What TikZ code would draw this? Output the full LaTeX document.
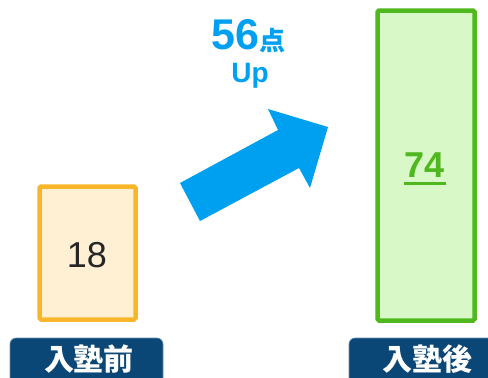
\documentclass[tikz,border=0pt]{standalone}
\usepackage{fontspec}
\setmainfont{Liberation Sans}
\newfontfamily\cjkfont{Noto Sans CJK JP}
\definecolor{upblue}{RGB}{0,160,240}
\definecolor{orgline}{RGB}{250,182,42}
\definecolor{orgfill}{RGB}{255,240,212}
\definecolor{grnline}{RGB}{78,184,30}
\definecolor{grnfill}{RGB}{216,248,200}
\definecolor{navy}{RGB}{10,70,118}
\tikzset{
  barbox/.style={line width=4.5pt, rounded corners=1.5pt},
  tagbox/.style={fill=navy, draw=navy!60!white, line width=0.6pt, rounded corners=6pt},
  tagtext/.style={text=white, font=\cjkfont\bfseries\fontsize{30}{30}\selectfont, inner sep=0pt},
}
\begin{document}
\begin{tikzpicture}[x=1pt,y=-1pt]
\clip (0,0) rectangle (488,378);
\fill[white] (0,0) rectangle (488,378);
% bars
\draw[barbox, draw=orgline, fill=orgfill] (39.5,186.5) rectangle (135.5,319.5);
\draw[barbox, draw=grnline, fill=grnfill] (377.5,10.5) rectangle (474.5,320.5);
\node[font=\fontsize{36}{36}\selectfont, text=black!85, inner sep=0pt, anchor=base] (v18) at (87,267) {18};
\node[font=\bfseries\fontsize{36}{36}\selectfont, text=grnline, inner sep=0pt, anchor=base] (v74) at (425,177) {74};
\draw[grnline, line width=3pt] (404,183.5) -- (446,183.5);
% arrow
\fill[upblue] (200,221) -- (180,183) -- (278,130) -- (268,109) -- (328,127) -- (310,188) -- (299,168) -- cycle;
\node[font=\bfseries\fontsize{43}{43}\selectfont, text=upblue, inner sep=0pt, anchor=base west] (n56) at (211,49) {56};
\node[font=\cjkfont\bfseries\fontsize{26}{26}\selectfont, text=upblue, inner sep=0pt, anchor=base west] (pt) at (259,50) {点};
\node[font=\bfseries\fontsize{28}{28}\selectfont, text=upblue, inner sep=0pt, anchor=base] (up) at (250,82) {Up};
% tags
\path[tagbox] (10,395) rectangle (163,338);
\node[tagtext] (before) at (89,359) {入塾前};
\path[tagbox] (349,395) rectangle (505,338);
\node[tagtext] (after) at (427,359) {入塾後};
\end{tikzpicture}
\end{document}
